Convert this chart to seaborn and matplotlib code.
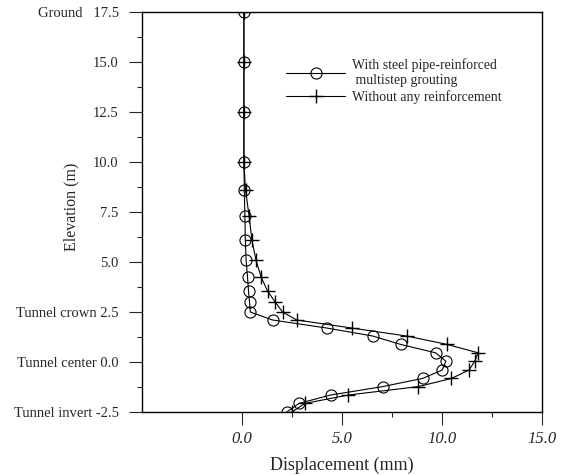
import matplotlib
matplotlib.use("Agg")
import matplotlib.pyplot as plt
import seaborn as sns
import pandas as pd
from matplotlib.ticker import FixedLocator
from matplotlib.lines import Line2D

elevation = [17.5, 15.0, 12.5, 10.0, 8.6, 7.3, 6.1, 5.1, 4.25, 3.55, 3.0, 2.5,
             2.1, 1.7, 1.3, 0.88, 0.46, 0.04, -0.4, -0.82, -1.23, -1.65, -2.07, -2.5]
disp_with = [0.1, 0.1, 0.1, 0.1, 0.12, 0.15, 0.17, 0.21, 0.28, 0.33, 0.38, 0.42,
             1.53, 4.23, 6.53, 7.92, 9.67, 10.18, 10.0, 9.02, 7.02, 4.43, 2.85, 2.24]
disp_without = [0.1, 0.1, 0.1, 0.1, 0.18, 0.36, 0.5, 0.7, 0.96, 1.28, 1.66, 2.03,
                2.74, 5.48, 8.22, 10.24, 11.79, 11.62, 11.34, 10.46, 8.8, 5.31, 3.15, 2.49]
label_with = "With steel pipe-reinforced\n multistep grouting"
label_without = "Without any reinforcement"
ytick_vals = [-2.5, 0.0, 2.5, 5.0, 7.5, 10.0, 12.5, 15.0, 17.5]
ytick_labels = ["Tunnel invert -2.5", "Tunnel center 0.0", "Tunnel crown 2.5", "5.0",
                "7.5", "10.0", "12.5", "15.0", "Ground   17.5"]
xtick_vals = [0.0, 5.0, 10.0, 15.0]
xtick_labels = ["0.0", "5.0", "10.0", "15.0"]

sns.set_style("ticks")
plt.rcParams['font.family'] = ['Liberation Serif', 'DejaVu Serif']

fig = plt.figure(figsize=(5.68, 4.75), dpi=100)
ax = fig.add_axes([0.2495, 0.1326, 0.7055, 0.8421])

df_w = pd.DataFrame({"x": disp_with, "y": elevation})
df_o = pd.DataFrame({"x": disp_without, "y": elevation})

sns.lineplot(data=df_o, x="x", y="y", sort=False, estimator=None, ax=ax,
             color="black", lw=0.8, marker="+", markersize=10, mew=1.0,
             mec="black", legend=False)
sns.lineplot(data=df_w, x="x", y="y", sort=False, estimator=None, ax=ax,
             color="black", lw=0.8, marker="o", markersize=8, mfc="none",
             mec="black", mew=0.8, legend=False)

ax.set_xlim(-5, 15)
ax.set_ylim(-2.5, 17.5)

ax.xaxis.set_major_locator(FixedLocator(xtick_vals))
ax.set_xticklabels(xtick_labels, fontstyle="italic", fontsize=12)
ax.xaxis.set_minor_locator(FixedLocator([2.5, 7.5, 12.5]))
ax.yaxis.set_major_locator(FixedLocator(ytick_vals))
ax.set_yticklabels(ytick_labels, fontsize=10.5)
ax.yaxis.set_minor_locator(FixedLocator([v + 1.25 for v in ytick_vals[:-1]]))

ax.tick_params(which="major", direction="out", length=9.5, width=0.8)
ax.tick_params(which="minor", direction="out", length=3.5, width=0.8)
ax.tick_params(axis="y", which="major", pad=7)
ax.tick_params(axis="x", which="major", pad=4)

for s in ax.spines.values():
    s.set_visible(True)
    s.set_linewidth(1.0)
    s.set_color("black")

ax.set_xlabel("Displacement (mm)", fontsize=13, labelpad=7)
ax.set_ylabel("Elevation (m)", fontsize=11.5)
ax.yaxis.set_label_coords(-0.156, 0.514)

handles = [Line2D([], [], color="black", lw=0.8, marker="o", markersize=8, mfc="none", mew=0.8),
           Line2D([], [], color="black", lw=0.8, marker="+", markersize=10, mew=1.0)]
ax.legend(handles, [label_with, label_without], frameon=False, loc="upper left",
          bbox_to_anchor=(0.36, 0.885), fontsize=9.9, handlelength=4.3, handletextpad=0.5,
          labelspacing=0.22, borderaxespad=0, borderpad=0)

fig.savefig("out.png", dpi=100)
